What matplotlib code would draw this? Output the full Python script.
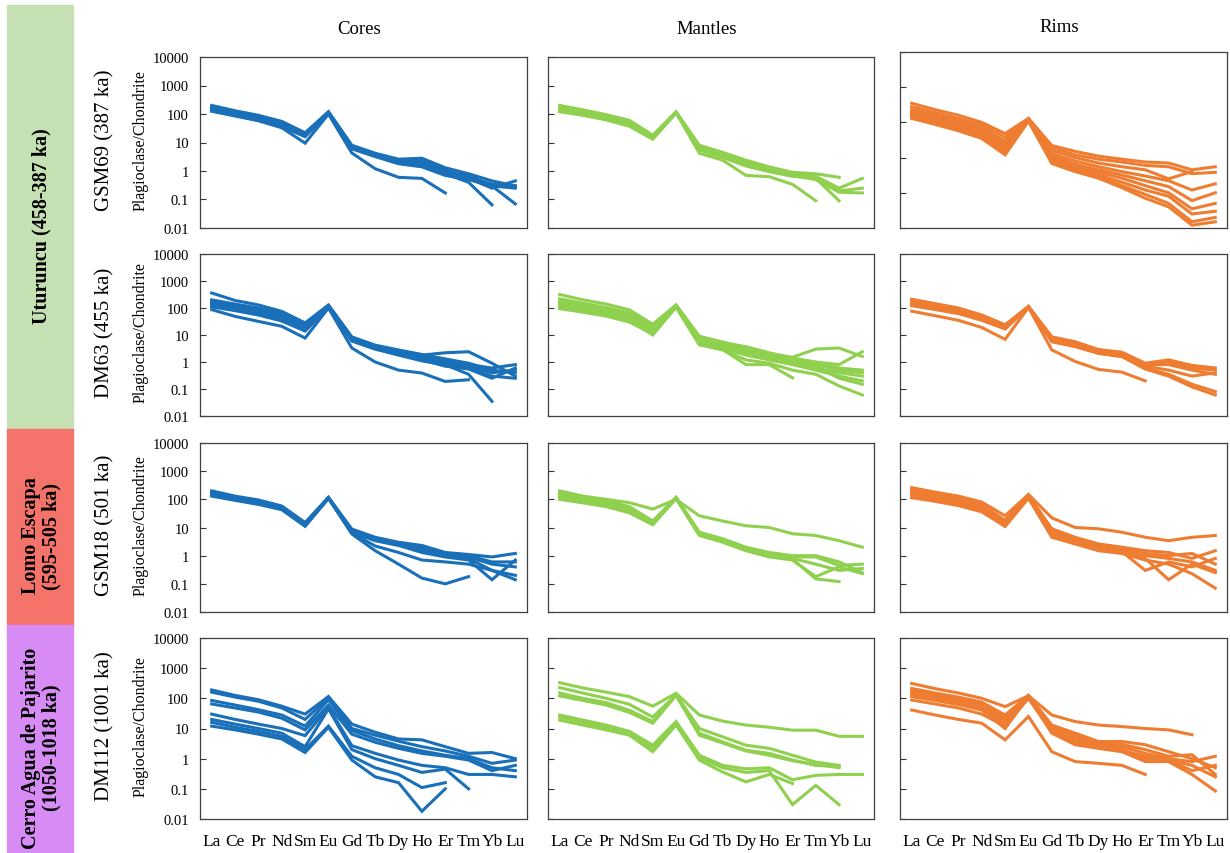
import numpy as np
import matplotlib
matplotlib.use("Agg")
import matplotlib.pyplot as plt
from matplotlib.patches import Rectangle

nan = np.nan

# ── Elements (x axis) ──
REE = ["La", "Ce", "Pr", "Nd", "Sm", "Eu", "Gd", "Tb", "Dy", "Ho", "Er", "Tm", "Yb", "Lu"]

# ── GSM69 (387 ka) ──
gsm69_cores = [
    [200, 130, 90, 55, 22, 120, 8.0, 4.2, 2.6, 2.8, 1.3, 0.8, 0.45, 0.3],
    [170, 115, 80, 48, 20, 115, 7.5, 3.8, 2.2, 2.0, 1.1, 0.55, 0.25, 0.45],
    [150, 100, 70, 42, 18, 110, 7.0, 3.6, 2.0, 1.8, 0.9, 0.7, 0.3, 0.25],
    [140, 95, 65, 40, 17, 110, 6.5, 3.4, 1.9, 1.6, 0.8, 0.4, 0.065, nan],
    [130, 90, 60, 36, 16, 105, 6.0, 3.2, 1.8, 1.4, 0.7, 0.5, 0.3, 0.07],
    [160, 105, 75, 45, 19, 115, 7.2, 3.5, 2.1, 2.5, 0.9, 0.6, 0.35, 0.3],
    [125, 85, 58, 33, 9.5, 100, 4.3, 1.2, 0.6, 0.55, 0.17, nan, nan, nan],
]
gsm69_mantles = [
    [200, 140, 95, 60, 18, 120, 8.0, 4.5, 2.4, 1.4, 0.9, 0.8, 0.6, nan],
    [170, 120, 85, 52, 16, 115, 7.0, 4.0, 2.0, 1.2, 0.8, 0.65, 0.25, 0.55],
    [150, 105, 75, 45, 15, 115, 6.5, 3.5, 1.8, 1.1, 0.75, 0.6, 0.2, 0.25],
    [130, 95, 68, 40, 14, 110, 6.0, 3.2, 1.6, 1.0, 0.7, 0.5, 0.18, 0.17],
    [120, 90, 62, 37, 13, 110, 5.5, 3.0, 1.5, 0.95, 0.65, 0.55, 0.09, nan],
    [140, 100, 70, 42, 14, 112, 4.2, 2.4, 0.7, 0.63, 0.34, 0.09, nan, nan],
]
gsm69_rims = [
    [350, 230, 160, 100, 48, 130, 22, 15, 11, 9.0, 7.5, 7.0, 4.5, 5.5],
    [280, 190, 130, 85, 38, 128, 19, 12, 9.0, 7.5, 6.0, 5.5, 3.5, 3.8],
    [230, 160, 110, 70, 30, 125, 16, 10, 7.0, 5.5, 4.5, 2.5, 4.0, nan],
    [200, 140, 95, 60, 25, 122, 13, 8.0, 5.5, 4.0, 3.0, 2.2, 1.2, 1.8],
    [180, 125, 85, 52, 22, 120, 11, 6.5, 4.5, 3.2, 2.2, 1.5, 0.6, 1.0],
    [160, 110, 75, 46, 18, 118, 9.5, 5.5, 3.8, 2.6, 1.6, 1.0, 0.35, 0.5],
    [145, 100, 68, 42, 15, 115, 8.5, 5.0, 3.2, 2.0, 1.2, 0.8, 0.25, 0.3],
    [135, 92, 62, 38, 13, 112, 7.5, 4.5, 2.8, 1.6, 0.9, 0.5, 0.15, 0.2],
    [130, 88, 58, 35, 12, 110, 6.8, 4.0, 2.6, 1.4, 0.7, 0.4, 0.12, 0.15],
]

# ── DM63 (455 ka) ──
dm63_cores = [
    [360, 190, 130, 75, 28, 130, 8.5, 4.2, 2.8, 1.9, 1.3, 0.9, 0.5, 0.4],
    [200, 140, 100, 62, 22, 120, 8.0, 4.0, 2.6, 1.8, 2.2, 2.4, 0.9, 0.3],
    [170, 120, 85, 52, 19, 115, 7.5, 3.8, 2.4, 1.6, 1.2, 0.8, 0.6, 0.8],
    [150, 105, 75, 45, 17, 115, 7.0, 3.5, 2.2, 1.4, 1.0, 0.7, 0.4, 0.5],
    [130, 95, 68, 40, 16, 110, 6.5, 3.3, 2.0, 1.3, 0.8, 0.6, 0.3, 0.25],
    [120, 88, 62, 37, 15, 110, 6.2, 3.1, 1.9, 1.2, 0.7, 0.55, 0.25, 0.6],
    [110, 80, 55, 33, 14, 108, 6.0, 3.0, 1.8, 1.1, 0.8, 0.35, 0.035, nan],
    [87, 49, 32, 21, 7.7, 100, 3.3, 1.0, 0.5, 0.39, 0.19, 0.22, nan, nan],
]
dm63_mantles = [
    [316, 200, 140, 85, 25, 130, 9.0, 5.5, 3.5, 2.0, 1.5, 3.0, 3.3, 1.6],
    [220, 150, 105, 65, 22, 125, 8.0, 5.0, 3.7, 2.2, 1.4, 1.0, 0.8, 2.4],
    [180, 125, 90, 55, 18, 120, 7.5, 4.5, 3.0, 1.9, 1.2, 0.9, 0.6, 0.5],
    [160, 115, 80, 50, 17, 120, 7.2, 4.2, 2.5, 1.6, 1.0, 0.7, 0.25, 0.15],
    [150, 110, 78, 48, 16, 118, 7.0, 4.0, 2.6, 1.7, 1.1, 0.8, 0.5, 0.4],
    [130, 95, 68, 42, 14, 115, 6.0, 3.6, 2.2, 1.4, 0.9, 0.6, 0.4, 0.3],
    [115, 85, 60, 38, 12, 112, 5.0, 3.2, 1.8, 1.2, 0.8, 0.5, 0.3, 0.2],
    [100, 75, 55, 34, 10, 110, 4.5, 2.8, 1.2, 0.9, 0.5, 0.35, 0.13, 0.06],
    [95, 70, 50, 30, 11, 108, 4.3, 2.9, 0.8, 0.8, 0.26, nan, nan, nan],
]
dm63_rims = [
    [212, 145, 100, 55, 24, 115, 8.6, 5.6, 2.9, 2.3, 0.9, 1.2, 0.75, 0.6],
    [180, 125, 90, 50, 22, 112, 8.0, 5.2, 2.7, 2.2, 0.85, 1.0, 0.6, 0.5],
    [160, 112, 80, 45, 20, 112, 7.2, 4.8, 2.5, 2.0, 0.8, 0.8, 0.5, 0.35],
    [145, 100, 72, 40, 18, 110, 6.5, 4.3, 2.3, 1.8, 0.7, 0.5, 0.3, 0.4],
    [130, 92, 65, 37, 17, 110, 6.0, 3.9, 2.1, 1.6, 0.6, 0.35, 0.15, 0.08],
    [122, 88, 62, 35, 17, 108, 5.6, 3.7, 2.1, 1.6, 0.55, 0.3, 0.12, 0.06],
    [76, 52, 35, 19, 6.9, 105, 2.8, 1.05, 0.53, 0.42, 0.2, nan, nan, nan],
]

# ── GSM18 (501 ka) ──
gsm18_cores = [
    [200, 130, 95, 58, 15, 118, 8.8, 4.5, 3.0, 2.3, 1.3, 1.1, 0.9, 1.2],
    [180, 120, 88, 54, 14, 115, 8.0, 4.2, 2.8, 2.0, 1.2, 1.0, 0.6, 0.6],
    [160, 110, 80, 50, 13, 112, 7.5, 4.0, 2.6, 1.8, 1.1, 0.9, 0.5, 0.4],
    [145, 100, 72, 46, 12, 110, 7.0, 3.6, 2.4, 1.5, 1.0, 0.8, 0.3, 0.2],
    [130, 92, 66, 43, 11, 108, 6.8, 3.4, 2.3, 1.3, 0.9, 0.7, 0.14, 0.7],
    [150, 102, 75, 47, 12, 112, 6.5, 2.2, 1.3, 0.7, 0.6, 0.5, 0.3, 0.14],
    [140, 98, 70, 45, 12, 110, 5.9, 1.5, 0.5, 0.16, 0.1, 0.18, nan, nan],
]
gsm18_mantles = [
    [200, 130, 100, 76, 45, 100, 26, 17, 11.5, 10, 6.0, 5.2, 3.4, 2.0],
    [180, 125, 90, 55, 17, 118, 6.8, 4.0, 2.0, 1.3, 1.0, 1.0, 0.6, 0.25],
    [160, 112, 80, 48, 15, 115, 6.3, 3.6, 1.8, 1.2, 0.9, 0.9, 0.45, 0.5],
    [140, 100, 72, 43, 14, 112, 6.0, 3.3, 1.7, 1.0, 0.8, 0.5, 0.3, 0.35],
    [120, 88, 63, 38, 13, 110, 5.5, 3.0, 1.5, 0.9, 0.7, 0.18, 0.4, 0.23],
    [100, 75, 55, 33, 12.5, 108, 5.2, 3.1, 1.6, 1.1, 0.75, 0.15, 0.12, nan],
]
gsm18_rims = [
    [260, 180, 130, 80, 26, 150, 22, 10, 9.0, 6.8, 4.5, 3.4, 4.5, 5.2],
    [220, 150, 110, 65, 18, 140, 9.0, 4.5, 2.6, 2.0, 1.5, 1.3, 0.8, 1.5],
    [190, 130, 95, 57, 15, 130, 8.0, 4.0, 2.4, 1.8, 1.2, 1.0, 1.2, 0.5],
    [170, 118, 85, 50, 13, 125, 7.0, 3.5, 2.0, 1.6, 1.0, 0.8, 0.6, 0.3],
    [150, 105, 75, 45, 12, 120, 6.0, 3.0, 1.8, 1.4, 0.3, 0.6, 0.4, 0.8],
    [130, 95, 68, 40, 11, 115, 5.0, 2.8, 1.6, 1.3, 0.8, 0.14, 0.5, 0.25],
    [115, 85, 60, 36, 11, 110, 4.5, 2.6, 1.5, 1.2, 0.7, 0.5, 0.23, 0.07],
]

# ── DM112 (1001 ka) ──
dm112_cores = [
    [190, 125, 90, 55, 30, 115, 14, 7.5, 4.5, 4.2, 2.5, 1.5, 1.6, 1.0],
    [160, 110, 80, 48, 20, 105, 10, 6.0, 3.8, 2.5, 1.8, 1.2, 0.7, 0.9],
    [85, 60, 42, 28, 12, 90, 8.5, 4.5, 2.7, 1.8, 1.3, 1.0, 0.5, 0.4],
    [65, 48, 35, 22, 9.0, 60, 6.5, 3.5, 2.2, 1.5, 1.2, 0.9, 0.4, 0.6],
    [30, 20, 14, 10, 5.8, 50, 2.7, 1.5, 0.9, 0.6, 0.5, 0.3, 0.3, 0.25],
    [20, 14, 10, 7.0, 2.5, 45, 2.0, 1.0, 0.6, 0.35, 0.45, 0.1, nan, nan],
    [16, 11, 8.0, 5.5, 2.0, 12, 1.2, 0.5, 0.3, 0.11, 0.16, nan, nan, nan],
    [12, 9.0, 6.5, 4.5, 1.6, 11, 0.9, 0.25, 0.16, 0.018, 0.1, nan, nan, nan],
]
dm112_mantles = [
    [330, 220, 160, 114, 55, 147, 28, 17.6, 13, 11, 8.8, 8.8, 5.5, 5.5],
    [226, 150, 100, 63, 24, 130, 10, 5.3, 2.8, 2.2, 1.3, 0.77, 0.6, nan],
    [150, 100, 72, 40, 17, 130, 7.0, 3.6, 1.9, 1.5, 0.9, 0.6, 0.55, nan],
    [120, 85, 60, 34, 15, 125, 6.0, 3.3, 1.8, 1.3, 0.85, 0.65, 0.5, nan],
    [28, 19, 13, 8.0, 2.8, 17, 1.3, 0.6, 0.46, 0.5, 0.2, 0.28, 0.3, 0.3],
    [24, 16, 11, 7.5, 2.2, 15, 1.1, 0.5, 0.35, 0.4, 0.03, 0.13, 0.03, nan],
    [19, 13, 9.0, 6.0, 1.7, 13, 0.9, 0.36, 0.17, 0.3, 0.15, nan, nan, nan],
]
dm112_rims = [
    [312, 210, 150, 100, 53, 122, 28, 17, 13, 11.6, 10, 9.0, 6.2, nan],
    [213, 150, 110, 75, 28, 125, 13, 7.0, 3.7, 3.7, 2.9, 1.7, 1.0, 0.5],
    [180, 130, 95, 62, 22, 122, 11, 6.0, 3.3, 3.0, 2.0, 1.2, 1.35, 0.3],
    [150, 110, 80, 52, 18, 120, 9.0, 5.0, 3.0, 2.5, 1.5, 1.0, 0.8, 1.2],
    [130, 95, 70, 45, 14, 118, 8.0, 4.0, 2.6, 2.0, 1.0, 0.9, 0.4, 0.6],
    [114, 85, 62, 41, 10, 115, 7.0, 2.9, 2.2, 1.7, 0.8, 0.8, 0.3, 0.085],
    [88, 65, 48, 30, 12, 100, 7.5, 3.5, 2.4, 1.9, 1.2, 0.9, 0.6, 0.25],
    [41, 28, 20, 15, 4.2, 25, 1.7, 0.8, 0.7, 0.6, 0.3, nan, nan, nan],
]

COLUMN_TITLES = ["Cores", "Mantles", "Rims"]
SAMPLE_LABELS = ["GSM69 (387 ka)", "DM63 (455 ka)", "GSM18 (501 ka)", "DM112 (1001 ka)"]
GROUP_LABELS = ["Uturuncu (458-387 ka)", "Lomo Escapa\n(595-505 ka)",
                "Cerro Agua de Pajarito\n(1050-1018 ka)"]

PANELS = [
    [gsm69_cores, gsm69_mantles, gsm69_rims],
    [dm63_cores, dm63_mantles, dm63_rims],
    [gsm18_cores, gsm18_mantles, gsm18_rims],
    [dm112_cores, dm112_mantles, dm112_rims],
]

# ── Styling ──
W, H = 1230, 854
SERIF = ["Liberation Serif", "DejaVu Serif"]
LINE_COLORS = ["#1A70B8", "#8FD14F", "#EE7D32"]
BOX_COLORS = ["#C5E0B3", "#F4736B", "#D78BF5"]
COL_X = [(200, 527), (548, 874), (900, 1227)]
ROW_Y = [(58, 229), (255, 417), (444, 613), (639, 820)]

plt.rcParams["font.family"] = SERIF


def px_rect(x0, y0, x1, y1):
    return [x0 / W, 1 - y1 / H, (x1 - x0) / W, (y1 - y0) / H]


def draw_panel(ax, lines, color, ymin, show_y, show_x):
    x = np.arange(len(REE))
    for vals in lines:
        ax.plot(x, vals, color=color, lw=2.2, solid_joinstyle="miter")
    ax.set_yscale("log")
    ax.set_ylim(ymin, 10000)
    ax.set_xlim(-0.5, 13.5)
    ticks = [t for t in [0.01, 0.1, 1, 10, 100, 1000, 10000] if t >= ymin]
    ax.set_yticks(ticks)
    ax.yaxis.set_minor_locator(matplotlib.ticker.NullLocator())
    if show_y:
        ax.set_yticklabels([f"{t:g}" for t in ticks], fontsize=10.5)
    else:
        ax.set_yticklabels([])
    ax.tick_params(axis="y", direction="in", length=4, width=0.8, color="#333333", pad=8)
    ax.set_xticks(x)
    if show_x:
        ax.set_xticklabels(REE, fontsize=12.5)
    else:
        ax.set_xticklabels([])
    ax.tick_params(axis="x", length=0, pad=10)
    for s in ax.spines.values():
        s.set_color("#404040")
        s.set_linewidth(0.9)


def main():
    fig = plt.figure(figsize=(W / 100, H / 100), dpi=100)

    # Left group boxes
    boxes = [(6, 430), (430, 626), (626, 854)]
    for (y0, y1), c, lab in zip(boxes, BOX_COLORS, GROUP_LABELS):
        fig.patches.append(Rectangle((7 / W, 1 - y1 / H), 66 / W, (y1 - y0) / H,
                                     transform=fig.transFigure, color=c, zorder=0))
        fig.text(41 / W, 1 - ((y0 + y1) / 2 + 8) / H, lab, rotation=90, ha="center",
                 va="center", fontsize=14.5, fontweight="bold", linespacing=1.0)

    for r, row in enumerate(PANELS):
        for c, lines in enumerate(row):
            x0, x1 = COL_X[c]
            y0, y1 = ROW_Y[r]
            ymin = 0.01
            if r == 0 and c == 2:
                y0, ymin = 53, 0.1
            ax = fig.add_axes(px_rect(x0, y0, x1, y1))
            draw_panel(ax, lines, LINE_COLORS[c], ymin, c == 0, r == 3)

        yc = 1 - (sum(ROW_Y[r]) / 2 - 3) / H
        fig.text(105 / W, yc, SAMPLE_LABELS[r], rotation=90, ha="center", va="center",
                 fontsize=15)
        fig.text(141 / W, yc, "Plagioclase/Chondrite", rotation=90, ha="center",
                 va="center", fontsize=11.5)

    for (x0, x1), t, ty in zip(COL_X, COLUMN_TITLES, [30, 30, 27]):
        fig.text((x0 + x1) / 2 / W - 4 / W, 1 - ty / H, t, ha="center", va="center",
                 fontsize=13.5)

    fig.savefig("out.png", dpi=100)
    plt.close(fig)


if __name__ == "__main__":
    main()
